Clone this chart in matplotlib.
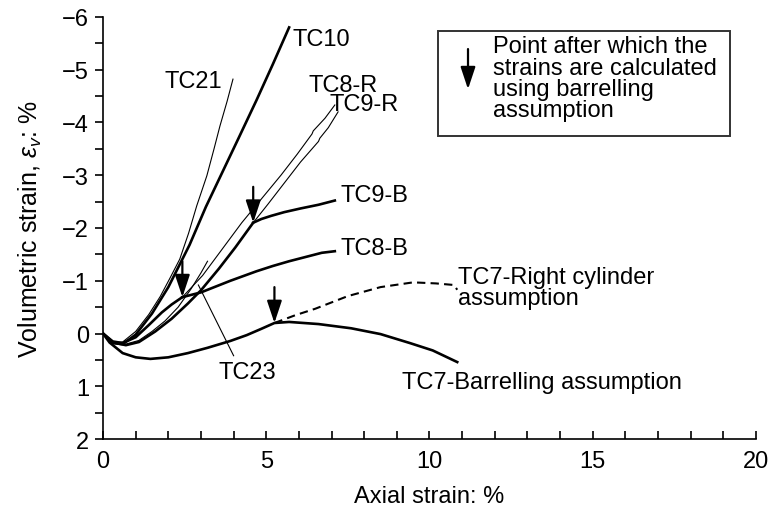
import matplotlib
matplotlib.use('Agg')
import matplotlib.pyplot as plt
from matplotlib.patches import Rectangle

plt.rcParams['font.family'] = ['Liberation Sans', 'DejaVu Sans']
plt.rcParams['font.size'] = 17
plt.rcParams['mathtext.fontset'] = 'custom'
plt.rcParams['mathtext.rm'] = 'Liberation Sans'
plt.rcParams['mathtext.it'] = 'Liberation Sans:italic'

# axial strain (%) / volumetric strain (%) for each test
tc10_x = [0, 0.3, 0.6, 1.0, 1.5, 2.0, 2.65, 3.15, 3.65, 4.15, 4.7, 5.2, 5.7]
tc10_y = [0, 0.18, 0.2, 0.02, -0.38, -0.88, -1.68, -2.4, -3.05, -3.7, -4.42, -5.1, -5.8]

tc21_x = [0, 0.3, 0.6, 1.0, 1.4, 1.75, 2.05, 2.35, 2.62, 2.87, 3.18, 3.4, 3.58, 3.8, 3.98]
tc21_y = [0, 0.17, 0.16, -0.04, -0.36, -0.7, -1.05, -1.41, -1.9, -2.42, -2.99, -3.5, -3.93, -4.4, -4.82]

tc23_x = [0, 0.3, 0.7, 1.1, 1.5, 1.9, 2.3, 2.7, 3.0, 3.2]
tc23_y = [0, 0.17, 0.2, 0.13, -0.04, -0.24, -0.5, -0.85, -1.15, -1.37]

tc8_x = [0, 0.3, 0.6, 1.0, 1.4, 1.8, 2.1, 2.43]
tc8_y = [0, 0.15, 0.18, 0.07, -0.16, -0.4, -0.55, -0.69]
tc8b_x = [2.43, 3.0, 3.45, 3.9, 4.3, 4.7, 5.2, 5.7, 6.2, 6.7, 7.1]
tc8b_y = [-0.69, -0.78, -0.89, -1.0, -1.09, -1.18, -1.28, -1.37, -1.45, -1.53, -1.56]
tc8r_x = [2.43, 3.05, 3.65, 4.25, 4.85, 5.45, 5.95, 6.4, 6.44, 6.8, 7.1]
tc8r_y = [-0.69, -1.1, -1.6, -2.1, -2.55, -3.0, -3.4, -3.78, -3.84, -4.08, -4.33]

tc9_x = [0, 0.3, 0.7, 1.1, 1.6, 2.1, 2.6, 3.0, 3.55, 4.05, 4.6]
tc9_y = [0, 0.17, 0.22, 0.16, -0.04, -0.28, -0.57, -0.82, -1.23, -1.63, -2.1]
tc9b_x = [4.6, 4.85, 5.15, 5.55, 6.05, 6.6, 7.1]
tc9b_y = [-2.1, -2.17, -2.23, -2.3, -2.37, -2.44, -2.52]
tc9r_x = [4.6, 5.05, 5.55, 6.05, 6.6, 6.64, 6.9, 7.2]
tc9r_y = [-2.1, -2.45, -2.85, -3.25, -3.64, -3.7, -3.9, -4.2]

tc7_x = [0, 0.2, 0.6, 1.0, 1.45, 2.0, 2.6, 3.2, 3.9, 4.4, 4.85, 5.25, 5.7, 6.6, 7.6, 8.5, 9.4, 10.1, 10.85]
tc7_y = [0, 0.17, 0.37, 0.45, 0.48, 0.45, 0.37, 0.27, 0.14, 0.03, -0.09, -0.2, -0.22, -0.18, -0.1, 0.01, 0.18, 0.32, 0.54]
tc7r_x = [5.25, 5.9, 6.5, 7.5, 8.5, 9.5, 10.2, 10.75, 10.85]
tc7r_y = [-0.2, -0.35, -0.47, -0.71, -0.88, -0.97, -0.95, -0.92, -0.83]

# points where barrelling correction starts
arrow_x = [2.43, 4.6, 5.25]
arrow_y = [-0.69, -2.1, -0.2]

thick = 1.9
thin = 0.8

fig = plt.figure(figsize=(7.69, 5.10), dpi=100)
ax = fig.add_axes([0.134, 0.137, 0.849, 0.828])

ax.plot(tc10_x, tc10_y, color='k', lw=thick)
ax.plot(tc21_x, tc21_y, color='k', lw=thin)
ax.plot(tc23_x, tc23_y, color='k', lw=thin)
ax.plot(tc8_x, tc8_y, color='k', lw=thick)
ax.plot(tc8b_x, tc8b_y, color='k', lw=thick)
ax.plot(tc8r_x, tc8r_y, color='k', lw=thin)
ax.plot(tc9_x, tc9_y, color='k', lw=thick)
ax.plot(tc9b_x, tc9b_y, color='k', lw=thick)
ax.plot(tc9r_x, tc9r_y, color='k', lw=thin)
ax.plot(tc7_x, tc7_y, color='k', lw=thick)
ax.plot(tc7r_x, tc7r_y, color='k', lw=1.5, dashes=(4, 2.5))

arrow_props = dict(arrowstyle='-|>,head_width=0.25,head_length=0.75',
                   color='k', lw=1.6, mutation_scale=18, shrinkA=0, shrinkB=0)
for xa, ya in zip(arrow_x, arrow_y):
    ax.annotate('', xy=(xa, ya), xytext=(xa, ya - 0.68), arrowprops=arrow_props)

# curve labels
ax.text(5.79, -5.58, 'TC10', va='center', ha='left')
ax.text(3.64, -4.79, 'TC21', va='center', ha='right')
ax.text(6.3, -4.71, 'TC8-R', va='center', ha='left')
ax.text(6.95, -4.35, 'TC9-R', va='center', ha='left')
ax.text(7.26, -2.62, 'TC9-B', va='center', ha='left')
ax.text(7.26, -1.62, 'TC8-B', va='center', ha='left')
ax.text(10.87, -0.88, 'TC7-Right cylinder\nassumption', va='center', ha='left',
        linespacing=0.95)
ax.text(9.16, 0.92, 'TC7-Barrelling assumption', va='center', ha='left')
ax.text(4.41, 0.73, 'TC23', va='center', ha='center')
ax.plot([2.92, 4.0], [-0.92, 0.42], color='k', lw=0.8)

# key box
ax.add_patch(Rectangle((10.26, -5.73), 8.94, 1.99, fill=False, lw=1.4,
                       edgecolor='#333333', zorder=3))
ax.annotate('', xy=(11.18, -4.63), xytext=(11.18, -5.39), arrowprops=arrow_props)
key_lines = ['Point after which the', 'strains are calculated',
             'using barrelling', 'assumption']
for i, line in enumerate(key_lines):
    ax.text(11.94, -5.44 + 0.4 * i, line, va='center', ha='left')

ax.set_xlim(0, 20)
ax.set_ylim(2, -6)
ax.set_xticks([0, 5, 10, 15, 20])
ax.set_xticks(range(0, 21), minor=True)
ax.set_yticks(range(-6, 3))
ax.set_yticks([v / 2 for v in range(-12, 5)], minor=True)
ax.tick_params(axis='x', which='both', direction='in', length=6, width=1.2, pad=8)
ax.tick_params(axis='y', which='both', direction='out', length=6, width=1.2, pad=4)

for side in ['top', 'right']:
    ax.spines[side].set_visible(False)
for side in ['left', 'bottom']:
    ax.spines[side].set_linewidth(1.2)

ax.set_xlabel('Axial strain: %', labelpad=9)
ax.set_ylabel(r'Volumetric strain, $\mathit{\varepsilon}_{\mathit{v}}$: %',
              fontsize=18, labelpad=13)

fig.savefig('out.png', dpi=100)
